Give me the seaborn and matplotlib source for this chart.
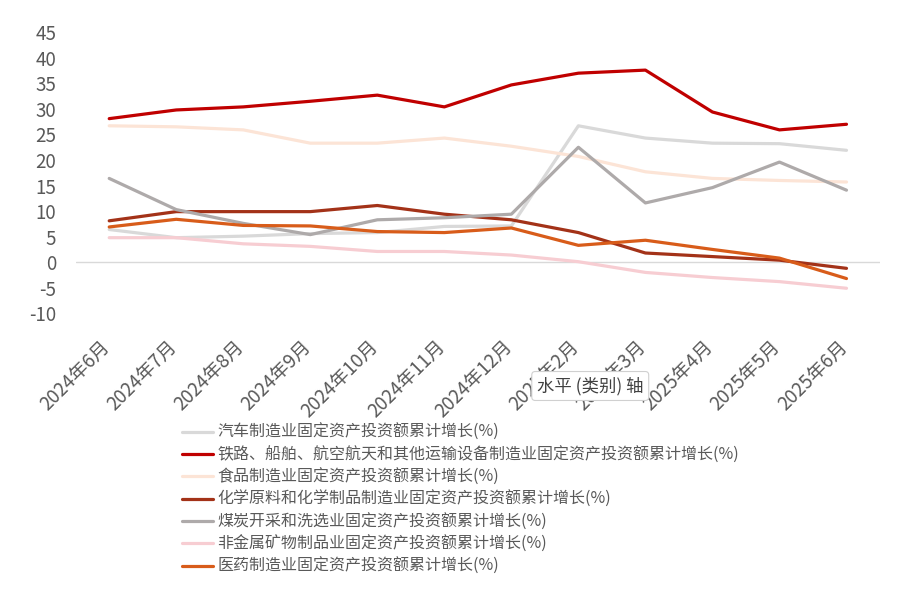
import numpy as np
import pandas as pd
import matplotlib
matplotlib.use('Agg')
import matplotlib.pyplot as plt
import matplotlib.transforms as mtransforms
import seaborn as sns

# Months on the category axis.
months = ['2024年6月', '2024年7月', '2024年8月', '2024年9月', '2024年10月', '2024年11月',
          '2024年12月', '2025年2月', '2025年3月', '2025年4月', '2025年5月', '2025年6月']

# Cumulative growth of fixed asset investment (%).
auto = [6.4, 4.8, 5.1, 5.6, 5.8, 7.0, 7.1, 26.7, 24.3, 23.3, 23.2, 21.9]
rail = [28.1, 29.8, 30.4, 31.5, 32.7, 30.4, 34.7, 37.0, 37.6, 29.4, 25.9, 27.0]
food = [26.7, 26.5, 25.9, 23.3, 23.3, 24.3, 22.7, 20.7, 17.7, 16.4, 16.0, 15.7]
chem = [8.1, 9.9, 9.9, 9.9, 11.1, 9.4, 8.3, 5.8, 1.8, 1.1, 0.4, -1.2]
coal = [16.4, 10.3, 7.6, 5.4, 8.3, 8.7, 9.4, 22.5, 11.6, 14.6, 19.6, 14.1]
nonmetal = [4.8, 4.8, 3.6, 3.1, 2.1, 2.1, 1.4, 0.1, -2.0, -3.0, -3.8, -5.1]
pharma = [6.9, 8.4, 7.2, 7.1, 6.0, 5.8, 6.7, 3.3, 4.3, 2.5, 0.8, -3.2]

series_names = ['汽车制造业固定资产投资额累计增长(%)',
                '铁路、船舶、航空航天和其他运输设备制造业固定资产投资额累计增长(%)',
                '食品制造业固定资产投资额累计增长(%)',
                '化学原料和化学制品制造业固定资产投资额累计增长(%)',
                '煤炭开采和洗选业固定资产投资额累计增长(%)',
                '非金属矿物制品业固定资产投资额累计增长(%)',
                '医药制造业固定资产投资额累计增长(%)']
series_values = [auto, rail, food, chem, coal, nonmetal, pharma]
colors = ['#d9d9d9', '#c00000', '#fce4d6', '#a33218', '#aeaaaa', '#f7cdd2', '#d85c1a']

# Long-form table for seaborn.
df = pd.concat([pd.DataFrame({'月份': months, '增速': vals, '系列': name})
                for name, vals in zip(series_names, series_values)], ignore_index=True)
df['位置'] = df['月份'].map({m: i for i, m in enumerate(months)})

sns.set_style('white')
plt.rcParams['font.family'] = ['Noto Sans CJK SC', 'DejaVu Sans']
plt.rcParams['axes.unicode_minus'] = False

fig = plt.figure(figsize=(9.05, 5.89), dpi=100)
ax = fig.add_axes([75.7 / 905, 1 - 313.3 / 589, (880 - 75.7) / 905, (313.3 - 32.3) / 589])

sns.lineplot(data=df, x='位置', y='增速', hue='系列', hue_order=series_names,
             palette=colors, linewidth=2.3, ax=ax, legend=False, sort=False)

ax.axhline(0, color='#d9d9d9', linewidth=1, zorder=0)
ax.set_xlim(-0.5, len(months) - 0.5)
ax.set_ylim(-10, 45)
ax.set_yticks(np.arange(-10, 46, 5))
ax.set_yticklabels([str(v) for v in range(-10, 46, 5)])
ax.set_xticks(range(len(months)))
ax.set_xticklabels(months, rotation=45, ha='right', va='center', rotation_mode='anchor')
ax.tick_params(axis='both', length=0, labelsize=13.5, labelcolor='#595959')
ax.tick_params(axis='x', pad=22)
ax.tick_params(axis='y', pad=14)
offset = mtransforms.ScaledTranslation(-2 / 100, 0, fig.dpi_scale_trans)
for lab in ax.get_xticklabels():
    lab.set_transform(lab.get_transform() + offset)
ax.set_xlabel('')
ax.set_ylabel('')
for s in ax.spines.values():
    s.set_visible(False)

handles = [plt.Line2D([], [], color=c, linewidth=2.3) for c in colors]
fig.legend(handles, series_names, loc='upper left', bbox_to_anchor=(182 / 905, 1 - 424 / 589),
           frameon=False, fontsize=11.5, labelcolor='#595959', handlelength=1.95,
           handletextpad=0.25, labelspacing=0.33, borderpad=0, borderaxespad=0)

# Excel hover tooltip captured in the screenshot.
fig.text(537 / 905, 1 - 386 / 589, '水平 (类别) 轴', fontsize=12.5, color='#404040',
         ha='left', va='center', zorder=10,
         bbox=dict(boxstyle='round,pad=0.3,rounding_size=0.2', facecolor='white',
                   edgecolor='#d0d0d0', linewidth=0.8))

fig.savefig('out.png', dpi=100, facecolor='white')
